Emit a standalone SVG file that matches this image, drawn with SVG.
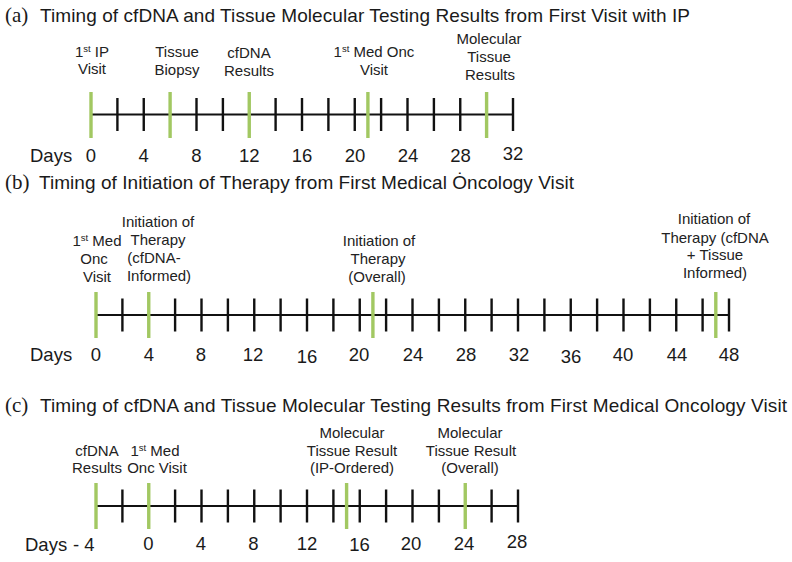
<svg xmlns="http://www.w3.org/2000/svg" width="792" height="562" viewBox="0 0 792 562">
<style>
.ttl{font-family:"Liberation Sans",Arial,sans-serif;font-size:19px;fill:#1a1a1a}
.pl{font-family:"Liberation Serif","Times New Roman",serif;font-size:21px;fill:#1a1a1a}
.lb{font-family:"Liberation Sans",Arial,sans-serif;font-size:15px;fill:#222;text-anchor:middle}
.sup{font-size:9.5px}
.num{font-family:"Liberation Sans",Arial,sans-serif;font-size:18.5px;fill:#1a1a1a;text-anchor:middle}
.days{font-family:"Liberation Sans",Arial,sans-serif;font-size:18.5px;fill:#1a1a1a}
.axis{stroke:#111;stroke-width:2;fill:none}
.tk{stroke:#111;stroke-width:2.4}
.gr{stroke:#a2c862;stroke-width:3.4}
</style>
<rect width="792" height="562" fill="#fff"/>

<!-- Panel (a) -->
<g id="panel-a-title">
<text class="pl" x="5" y="22">(a)</text>
<text class="ttl" x="40" y="22" textLength="650">Timing of cfDNA and Tissue Molecular Testing Results from First Visit with IP</text>
</g>
<g id="connectors-a">
<line class="axis" x1="91" y1="114.5" x2="513" y2="114.5"/>
<g class="tk">
<line x1="117.4" y1="98" x2="117.4" y2="131"/>
<line x1="143.75" y1="98" x2="143.75" y2="131"/>
<line x1="196.5" y1="98" x2="196.5" y2="131"/>
<line x1="222.9" y1="98" x2="222.9" y2="131"/>
<line x1="275.6" y1="98" x2="275.6" y2="131"/>
<line x1="302" y1="98" x2="302" y2="131"/>
<line x1="328.4" y1="98" x2="328.4" y2="131"/>
<line x1="354.75" y1="98" x2="354.75" y2="131"/>
<line x1="381.1" y1="98" x2="381.1" y2="131"/>
<line x1="407.5" y1="98" x2="407.5" y2="131"/>
<line x1="433.9" y1="98" x2="433.9" y2="131"/>
<line x1="460.25" y1="98" x2="460.25" y2="131"/>
<line x1="513" y1="98" x2="513" y2="131"/>
</g>
</g>
<g id="a-ip-visit"><line class="gr" x1="91" y1="92" x2="91" y2="138"/><text class="lb" x="92" y="57">1<tspan class="sup" dy="-5">st</tspan><tspan dy="5"> IP</tspan></text><text class="lb" x="92" y="74">Visit</text></g>
<g id="a-tissue-biopsy"><line class="gr" x1="170.1" y1="92" x2="170.1" y2="138"/><text class="lb" x="177" y="57">Tissue</text><text class="lb" x="177" y="75">Biopsy</text></g>
<g id="a-cfdna-results"><line class="gr" x1="249.25" y1="92" x2="249.25" y2="138"/><text class="lb" x="249" y="58">cfDNA</text><text class="lb" x="249" y="76">Results</text></g>
<g id="a-med-onc-visit"><line class="gr" x1="367.9" y1="92" x2="367.9" y2="138"/><text class="lb" x="374" y="57">1<tspan class="sup" dy="-5">st</tspan><tspan dy="5"> Med Onc</tspan></text><text class="lb" x="374" y="75">Visit</text></g>
<g id="a-molecular-tissue"><line class="gr" x1="486.6" y1="92" x2="486.6" y2="138"/><text class="lb" x="489" y="44">Molecular</text><text class="lb" x="489" y="62">Tissue</text><text class="lb" x="490" y="80">Results</text></g>
<g id="a-axis-labels">
<text class="days" x="30" y="162">Days</text>
<text class="num" x="91" y="162">0</text>
<text class="num" x="143.75" y="162">4</text>
<text class="num" x="196.5" y="162">8</text>
<text class="num" x="249.25" y="162">12</text>
<text class="num" x="302" y="162">16</text>
<text class="num" x="355" y="162">20</text>
<text class="num" x="408" y="162">24</text>
<text class="num" x="460.5" y="162">28</text>
<text class="num" x="513" y="160">32</text>
</g>

<!-- Panel (b) -->
<g id="panel-b-title">
<text class="pl" x="5" y="189">(b)</text>
<text class="ttl" x="39" y="189" textLength="535">Timing of Initiation of Therapy from First Medical Ȯncology Visit</text>
</g>
<g id="connectors-b">
<line class="axis" x1="96" y1="315" x2="729" y2="315"/>
<g class="tk">
<line x1="122.4" y1="298.5" x2="122.4" y2="331.5"/>
<line x1="175.1" y1="298.5" x2="175.1" y2="331.5"/>
<line x1="201.5" y1="298.5" x2="201.5" y2="331.5"/>
<line x1="227.9" y1="298.5" x2="227.9" y2="331.5"/>
<line x1="254.25" y1="298.5" x2="254.25" y2="331.5"/>
<line x1="280.6" y1="298.5" x2="280.6" y2="331.5"/>
<line x1="307" y1="298.5" x2="307" y2="331.5"/>
<line x1="333.4" y1="298.5" x2="333.4" y2="331.5"/>
<line x1="359.75" y1="298.5" x2="359.75" y2="331.5"/>
<line x1="386.1" y1="298.5" x2="386.1" y2="331.5"/>
<line x1="412.5" y1="298.5" x2="412.5" y2="331.5"/>
<line x1="438.9" y1="298.5" x2="438.9" y2="331.5"/>
<line x1="465.25" y1="298.5" x2="465.25" y2="331.5"/>
<line x1="491.6" y1="298.5" x2="491.6" y2="331.5"/>
<line x1="518" y1="298.5" x2="518" y2="331.5"/>
<line x1="544.4" y1="298.5" x2="544.4" y2="331.5"/>
<line x1="570.75" y1="298.5" x2="570.75" y2="331.5"/>
<line x1="597.1" y1="298.5" x2="597.1" y2="331.5"/>
<line x1="623.5" y1="298.5" x2="623.5" y2="331.5"/>
<line x1="649.9" y1="298.5" x2="649.9" y2="331.5"/>
<line x1="676.25" y1="298.5" x2="676.25" y2="331.5"/>
<line x1="702.6" y1="298.5" x2="702.6" y2="331.5"/>
<line x1="729" y1="298.5" x2="729" y2="331.5"/>
</g>
</g>
<g id="b-med-onc-visit"><line class="gr" x1="96" y1="292" x2="96" y2="338"/><text class="lb" x="97" y="246">1<tspan class="sup" dy="-5">st</tspan><tspan dy="5"> Med</tspan></text><text class="lb" x="94" y="264">Onc</text><text class="lb" x="97" y="282">Visit</text></g>
<g id="b-init-cfdna"><line class="gr" x1="148.75" y1="292" x2="148.75" y2="338"/><text class="lb" x="158" y="227">Initiation of</text><text class="lb" x="158" y="245">Therapy</text><text class="lb" x="154" y="263">(cfDNA-</text><text class="lb" x="159" y="281">Informed)</text></g>
<g id="b-init-overall"><line class="gr" x1="372.9" y1="292" x2="372.9" y2="338"/><text class="lb" x="379" y="246">Initiation of</text><text class="lb" x="378" y="264">Therapy</text><text class="lb" x="377" y="282">(Overall)</text></g>
<g id="b-init-cfdna-tissue"><line class="gr" x1="715.8" y1="292" x2="715.8" y2="338"/><text class="lb" x="714" y="224">Initiation of</text><text class="lb" x="715" y="243">Therapy (cfDNA</text><text class="lb" x="715" y="260">+ Tissue</text><text class="lb" x="715" y="278">Informed)</text></g>
<g id="b-axis-labels">
<text class="days" x="30" y="361">Days</text>
<text class="num" x="96" y="361">0</text>
<text class="num" x="149" y="361">4</text>
<text class="num" x="201" y="361">8</text>
<text class="num" x="253" y="361">12</text>
<text class="num" x="307" y="363">16</text>
<text class="num" x="359" y="361">20</text>
<text class="num" x="413" y="361">24</text>
<text class="num" x="466" y="361">28</text>
<text class="num" x="519" y="361">32</text>
<text class="num" x="571" y="363">36</text>
<text class="num" x="623" y="361">40</text>
<text class="num" x="677" y="361">44</text>
<text class="num" x="729" y="361">48</text>
</g>

<!-- Panel (c) -->
<g id="panel-c-title">
<text class="pl" x="5" y="412">(c)</text>
<text class="ttl" x="40" y="412" textLength="747">Timing of cfDNA and Tissue Molecular Testing Results from First Medical Oncology Visit</text>
</g>
<g id="connectors-c">
<line class="axis" x1="96" y1="506" x2="518" y2="506"/>
<g class="tk">
<line x1="122.4" y1="489.5" x2="122.4" y2="522.5"/>
<line x1="175.1" y1="489.5" x2="175.1" y2="522.5"/>
<line x1="201.5" y1="489.5" x2="201.5" y2="522.5"/>
<line x1="227.9" y1="489.5" x2="227.9" y2="522.5"/>
<line x1="254.25" y1="489.5" x2="254.25" y2="522.5"/>
<line x1="280.6" y1="489.5" x2="280.6" y2="522.5"/>
<line x1="307" y1="489.5" x2="307" y2="522.5"/>
<line x1="333.4" y1="489.5" x2="333.4" y2="522.5"/>
<line x1="359.75" y1="489.5" x2="359.75" y2="522.5"/>
<line x1="386.1" y1="489.5" x2="386.1" y2="522.5"/>
<line x1="412.5" y1="489.5" x2="412.5" y2="522.5"/>
<line x1="438.9" y1="489.5" x2="438.9" y2="522.5"/>
<line x1="491.6" y1="489.5" x2="491.6" y2="522.5"/>
<line x1="518" y1="489.5" x2="518" y2="522.5"/>
</g>
</g>
<g id="c-cfdna-results"><line class="gr" x1="96" y1="483" x2="96" y2="529"/><text class="lb" x="97" y="456">cfDNA</text><text class="lb" x="97" y="473">Results</text></g>
<g id="c-med-onc-visit"><line class="gr" x1="148.75" y1="483" x2="148.75" y2="529"/><text class="lb" x="155" y="456">1<tspan class="sup" dy="-5">st</tspan><tspan dy="5"> Med</tspan></text><text class="lb" x="157" y="473">Onc Visit</text></g>
<g id="c-tissue-ip"><line class="gr" x1="346.6" y1="483" x2="346.6" y2="529"/><text class="lb" x="352" y="438">Molecular</text><text class="lb" x="352" y="456">Tissue Result</text><text class="lb" x="352" y="473">(IP-Ordered)</text></g>
<g id="c-tissue-overall"><line class="gr" x1="465.25" y1="483" x2="465.25" y2="529"/><text class="lb" x="470" y="438">Molecular</text><text class="lb" x="471" y="456">Tissue Result</text><text class="lb" x="470" y="473">(Overall)</text></g>
<g id="c-axis-labels">
<text class="days" x="25" y="551">Days</text>
<text class="days" x="73" y="551">- 4</text>
<text class="num" x="148.5" y="550">0</text>
<text class="num" x="201" y="550">4</text>
<text class="num" x="253.5" y="550">8</text>
<text class="num" x="307" y="550">12</text>
<text class="num" x="359.5" y="551">16</text>
<text class="num" x="411" y="550">20</text>
<text class="num" x="464" y="550">24</text>
<text class="num" x="517" y="548">28</text>
</g>
</svg>
